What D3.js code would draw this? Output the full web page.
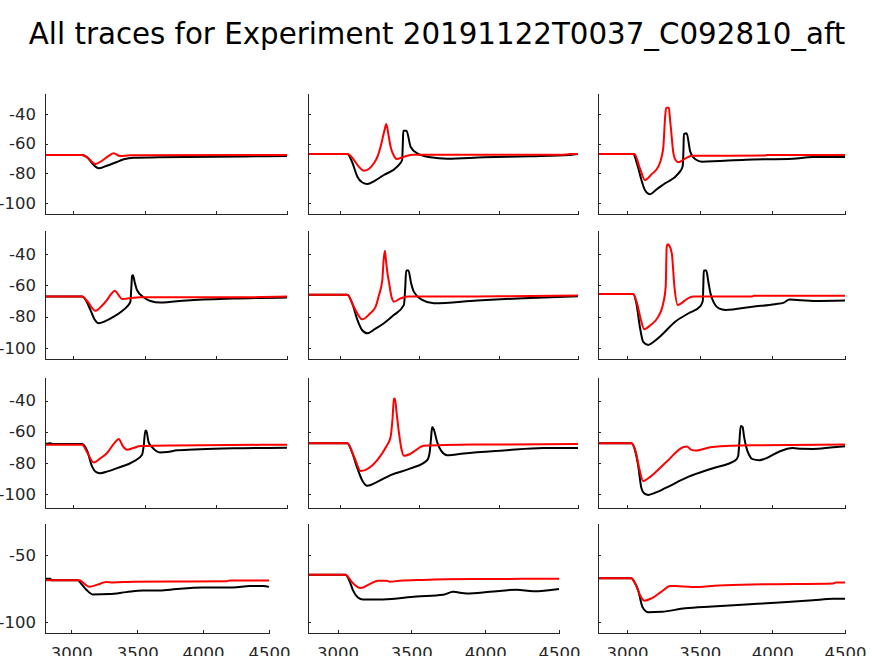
<!DOCTYPE html>
<html><head><meta charset="utf-8">
<script src="https://cdn.jsdelivr.net/npm/d3@7"></script>
<style>body{margin:0;background:#fff}</style></head>
<body>
<svg id="c" width="874" height="656"></svg>
<script>
const title = "All traces for Experiment 20191122T0037_C092810_aft";
const xTicks = [3000, 3500, 4000, 4500];
const yTicksMain = [-40, -60, -80, -100];
const yTicksLast = [-50, -100];

// [time (ms), membrane potential (mV)]
const black_r1c1 = [[2800,-67.6],[3060,-67.6],[3100,-69.5],[3130,-73],[3177,-76.6],[3230,-75],[3300,-72.5],[3353,-70.5],[3421,-69.4],[3600,-69.2],[3800,-69],[4000,-68.8],[4200,-68.6],[4500,-68.3]];
const red_r1c1 = [[2800,-67.6],[3060,-67.6],[3100,-69.5],[3154,-73.7],[3200,-71.5],[3250,-68],[3283,-66.5],[3325,-68.3],[3400,-67.8],[4500,-67.6]];
const black_r1c2 = [[2800,-67],[3048,-67],[3080,-73],[3111,-82.3],[3140,-86],[3174,-87.2],[3220,-85],[3278,-81.1],[3362,-75.5],[3393,-71],[3397,-60],[3400,-51.2],[3420,-51.2],[3446,-62],[3488,-66.5],[3571,-69.2],[3676,-70.1],[3906,-69.2],[4199,-68.5],[4450,-67.6],[4500,-67]];
const red_r1c2 = [[2800,-67],[3048,-67],[3090,-71],[3120,-75.5],[3153,-78.2],[3215,-73.2],[3240,-68],[3257,-62],[3282,-50.8],[3293,-46.7],[3305,-53],[3320,-62],[3340,-68],[3358,-70.3],[3404,-68.8],[3462,-67.4],[4400,-67.4],[4450,-67],[4500,-67]];
const black_r1c3 = [[2800,-67],[3042,-67],[3070,-74],[3099,-84.5],[3123,-91.2],[3158,-94.1],[3200,-91],[3262,-86.7],[3354,-80],[3382,-75.5],[3388,-65],[3391,-53.5],[3410,-53],[3435,-65.4],[3470,-70.5],[3516,-72.1],[3817,-70.8],[4141,-70.1],[4280,-69],[4500,-69]];
const red_r1c3 = [[2800,-67],[3050,-67],[3090,-77],[3123,-84.5],[3170,-80.5],[3215,-75.5],[3240,-68],[3250,-62],[3262,-42],[3269,-35.8],[3288,-35.8],[3296,-44],[3303,-50.8],[3319,-66.5],[3336,-71.3],[3354,-72.5],[3400,-70],[3446,-68.1],[3950,-68],[3960,-67.6],[4500,-67.6]];
const black_r2c1 = [[2800,-67.2],[3061,-67.2],[3090,-70],[3119,-75.7],[3150,-82],[3177,-84.2],[3220,-83],[3283,-80],[3340,-76.5],[3376,-73.6],[3400,-70.4],[3406,-62],[3412,-54],[3418,-53.5],[3430,-58],[3446,-63],[3493,-67.6],[3540,-70],[3610,-71],[3797,-69.6],[4122,-68.4],[4500,-67.7]];
const red_r2c1 = [[2800,-67.2],[3061,-67.2],[3100,-70.5],[3154,-76.2],[3200,-73],[3236,-69.3],[3265,-65.5],[3290,-63.4],[3315,-66],[3341,-68.7],[3470,-67.6],[4200,-67.6],[4500,-67.2]];
const black_r2c2 = [[2800,-66],[3048,-66],[3080,-72],[3111,-82.1],[3140,-88.5],[3174,-90.6],[3220,-88],[3278,-84.2],[3340,-79],[3404,-72.5],[3412,-62],[3418,-50.6],[3432,-50.6],[3450,-59],[3466,-64],[3519,-69.3],[3592,-71.5],[3864,-69.7],[4157,-68.2],[4500,-67]];
const red_r2c2 = [[2800,-66],[3048,-66],[3090,-74],[3142,-81.7],[3190,-78],[3226,-73.6],[3247,-66.2],[3268,-56.6],[3276,-44],[3284,-37.9],[3292,-45],[3300,-52],[3310,-58],[3325,-67],[3341,-70.4],[3380,-68.5],[3404,-67.6],[3430,-67.2],[4000,-67],[4500,-66.5]];
const black_r2c3 = [[2800,-65.5],[3042,-65.5],[3065,-72],[3088,-86.4],[3111,-96],[3146,-98],[3190,-95.5],[3238,-91.7],[3331,-83.2],[3424,-77.8],[3505,-73.2],[3521,-70],[3525,-60],[3528,-50.6],[3545,-50.6],[3560,-58],[3574,-65.1],[3600,-71.5],[3632,-74.7],[3678,-75.7],[3863,-73.6],[4018,-72],[4080,-71],[4118,-69],[4200,-69.5],[4280,-70],[4500,-69.7]];
const red_r2c3 = [[2800,-65.5],[3042,-65.5],[3070,-72],[3095,-82],[3118,-88],[3160,-85.5],[3215,-80],[3245,-73],[3266,-60.8],[3273,-35.3],[3280,-33.8],[3290,-34.5],[3308,-39.6],[3326,-60.8],[3349,-72.5],[3380,-71],[3400,-69.5],[3458,-67.2],[3860,-67.2],[3870,-66.7],[4500,-66.7]];
const black_r3c1 = [[2800,-67.9],[2840,-67.5],[2850,-67.9],[3061,-67.9],[3095,-72],[3131,-82.4],[3160,-86],[3189,-86.7],[3240,-85.5],[3306,-83.4],[3423,-79.1],[3482,-74.8],[3493,-69.5],[3505,-59.2],[3512,-59.5],[3528,-66.9],[3552,-69.9],[3610,-73.3],[3660,-73],[3727,-72],[3890,-71.3],[4122,-70.7],[4500,-70.3]];
const red_r3c1 = [[2800,-68.4],[3061,-68.4],[3100,-74],[3142,-79.8],[3190,-77],[3236,-73.7],[3290,-67],[3318,-64.7],[3345,-69],[3376,-71.6],[3420,-70.5],[3470,-69.2],[3700,-68.8],[4500,-68.4]];
const black_r3c2 = [[2800,-67.4],[3048,-67.4],[3080,-74],[3111,-83.6],[3140,-91],[3174,-94.7],[3230,-92.5],[3320,-87.9],[3446,-83.6],[3550,-78.3],[3565,-74],[3574,-65],[3582,-57],[3592,-58.5],[3613,-66.6],[3640,-72.5],[3676,-75.1],[3780,-74],[4031,-72.1],[4282,-70.5],[4500,-70.5]];
const red_r3c2 = [[2800,-67.4],[3048,-67.4],[3090,-76],[3132,-85.3],[3236,-78.3],[3290,-70],[3320,-63.4],[3332,-52],[3341,-38.9],[3347,-38.7],[3358,-48],[3372,-60.2],[3388,-71],[3404,-75.5],[3440,-74.5],[3467,-72.7],[3529,-69.1],[3843,-68.3],[4500,-67.9]];
const black_r3c3 = [[2800,-67.4],[3030,-67.4],[3055,-72],[3076,-81.5],[3099,-96.3],[3120,-99.8],[3146,-100.6],[3200,-99],[3262,-96.3],[3424,-88.9],[3586,-83.6],[3748,-78.3],[3765,-75.5],[3772,-68],[3782,-56.4],[3795,-57],[3805,-63],[3817,-68.7],[3840,-75],[3863,-77.6],[3910,-78.3],[3960,-77],[4049,-72.7],[4141,-70.5],[4200,-71],[4280,-71.1],[4400,-70.2],[4500,-69.3]];
const red_r3c3 = [[2800,-67.4],[3030,-67.4],[3060,-73],[3085,-84],[3111,-91.7],[3146,-89.9],[3270,-79.5],[3389,-69.8],[3412,-69.5],[3440,-71.5],[3470,-72.1],[3586,-69.8],[3863,-68.7],[4500,-68.3]];
const black_r4c1 = [[2800,-67.7],[2840,-67.7],[2850,-68.7],[3048,-68.7],[3080,-72],[3112,-75.6],[3162,-79.3],[3289,-79],[3416,-77.6],[3543,-76.4],[3670,-76.4],[3797,-75.3],[4000,-74.2],[4228,-74.2],[4355,-73],[4457,-73],[4500,-73.7]];
const red_r4c1 = [[2800,-68.7],[3060,-68.7],[3100,-71.5],[3137,-73.6],[3200,-72],[3264,-70.1],[3315,-70.5],[3467,-69.8],[4178,-69.5],[4203,-69],[4500,-69]];
const black_r4c2 = [[2800,-64.7],[3054,-64.7],[3080,-69],[3104,-76.1],[3138,-81.6],[3172,-83.1],[3308,-83.1],[3534,-80.9],[3715,-79.6],[3783,-77.4],[3876,-78.6],[4032,-77.4],[4213,-75.8],[4326,-77],[4500,-75.3]];
const red_r4c2 = [[2800,-64.7],[3054,-64.7],[3100,-70.5],[3156,-74.6],[3220,-71.5],[3274,-69.1],[3331,-69.1],[3354,-69.8],[3422,-69.1],[3580,-68.5],[3918,-67.9],[4500,-67.7]];
const black_r4c3 = [[2800,-67.2],[3030,-67.2],[3050,-70],[3076,-76.1],[3106,-88.6],[3146,-92.5],[3238,-92.2],[3400,-89.6],[3586,-88.3],[3817,-86.8],[4049,-85.3],[4280,-83.6],[4419,-82.6],[4500,-82.6]];
const red_r4c3 = [[2800,-67.2],[3030,-67.2],[3060,-72],[3090,-80],[3118,-84],[3169,-82.2],[3240,-77],[3296,-73.1],[3331,-73.1],[3447,-73.8],[3633,-72.6],[3935,-71.8],[4419,-71.1],[4440,-70.4],[4500,-70.4]];

const blackTraces = [black_r1c1, black_r1c2, black_r1c3, black_r2c1, black_r2c2, black_r2c3, black_r3c1, black_r3c2, black_r3c3, black_r4c1, black_r4c2, black_r4c3];
const redTraces = [red_r1c1, red_r1c2, red_r1c3, red_r2c1, red_r2c2, red_r2c3, red_r3c1, red_r3c2, red_r3c3, red_r4c1, red_r4c2, red_r4c3];

// layout (pixels)
const colX = [[45,287],[308,578],[598,845]];
const colXLast = [[45,269],[308,559],[598,845]];
const rowY = [[93,214],[230,359],[377,508],[523,633]];
const yDomains = [[-107.4,-25.8],[-107,-24.7],[-109,-24.9],[-108,-26.2]];
const xDomain = [2800, 4500];

const FONT = "DejaVu Sans, sans-serif";
const AX = "#262626";
const svg = d3.select("#c");
svg.append("rect").attr("width",874).attr("height",656).attr("fill","#fff");
svg.append("text").attr("x",437).attr("y",44).attr("text-anchor","middle")
  .style("font-family",FONT).style("font-size","29.3px").attr("fill","#000").text(title);

for (let r = 0; r < 4; r++) {
  for (let c = 0; c < 3; c++) {
    const i = r*3 + c;
    const xr = r === 3 ? colXLast[c] : colX[c];
    const x = d3.scaleLinear().domain(xDomain).range(xr);
    const y = d3.scaleLinear().domain(yDomains[r]).range([rowY[r][1], rowY[r][0]]);
    const g = svg.append("g");
    const line = d3.line().x(d => x(d[0])).y(d => y(d[1])).curve(d3.curveMonotoneX);
    g.append("path").datum(blackTraces[i]).attr("d", line).attr("fill","none")
      .attr("stroke","#000").attr("stroke-width",2).attr("stroke-linejoin","round");
    g.append("path").datum(redTraces[i]).attr("d", line).attr("fill","none")
      .attr("stroke","#ff0000").attr("stroke-width",2).attr("stroke-linejoin","round");

    const xa = g.append("g").attr("transform",`translate(0,${rowY[r][1]})`)
      .call(d3.axisBottom(x).tickValues(xTicks).tickSizeInner(-3).tickSizeOuter(0).tickPadding(14)
        .tickFormat(r === 3 ? (d => String(d)) : () => ""));
    const ya = g.append("g").attr("transform",`translate(${xr[0]},0)`)
      .call(d3.axisLeft(y).tickValues(r === 3 ? yTicksLast : yTicksMain).tickSizeInner(-3).tickSizeOuter(0).tickPadding(9)
        .tickFormat(c === 0 ? (d => String(d)) : () => ""));
    [xa, ya].forEach(a => {
      a.select(".domain").attr("stroke", AX).attr("stroke-width",1).attr("shape-rendering","crispEdges");
      a.selectAll(".tick line").attr("stroke", AX).attr("shape-rendering","crispEdges");
      a.selectAll(".tick text").attr("fill", AX).style("font-family",FONT).style("font-size","16.5px");
    });
  }
}
</script>
</body></html>
